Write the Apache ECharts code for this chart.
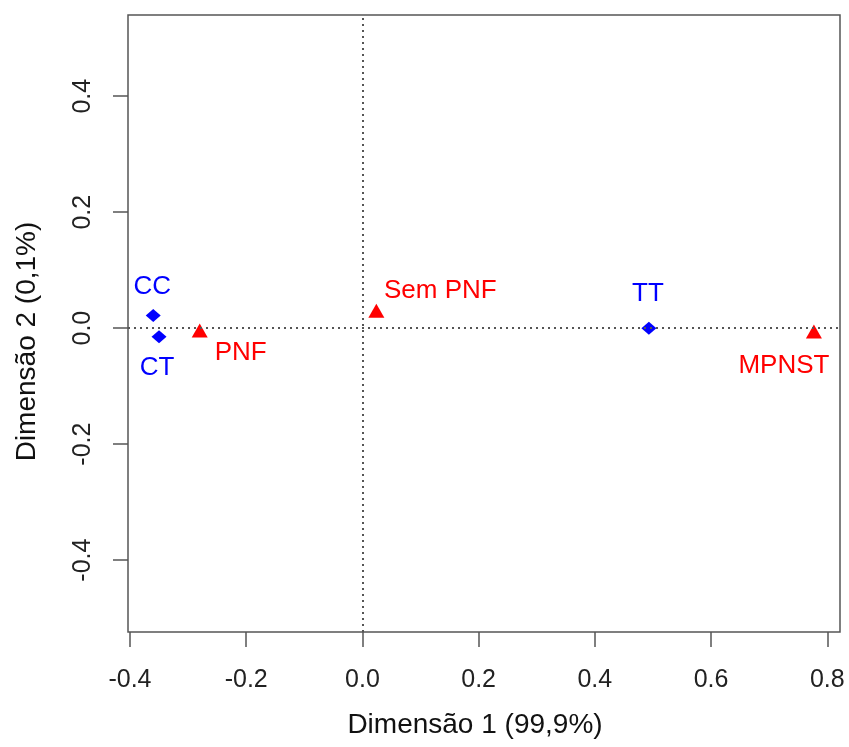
<!DOCTYPE html>
<html>
<head>
<meta charset="utf-8">
<script src="https://cdn.jsdelivr.net/npm/echarts@6/dist/echarts.min.js"></script>
<style>
  html, body { margin: 0; padding: 0; background: #fff; }
  #chart { width: 849px; height: 747px; }
</style>
</head>
<body>
<div id="chart"></div>
<script>
// linhas (azul) e colunas (vermelho) da análise de correspondência
const rowNames = ['CC', 'CT', 'TT'];
const rowX = [-0.360, -0.350, 0.493];
const rowY = [0.022, -0.015, 0.000];

const colNames = ['PNF', 'Sem PNF', 'MPNST'];
const colX = [-0.280, 0.024, 0.777];
const colY = [-0.004, 0.030, -0.006];

const xTicks = [-0.4, -0.2, 0.0, 0.2, 0.4, 0.6, 0.8];
const yTicks = [-0.4, -0.2, 0.0, 0.2, 0.4];

// posicao dos rotulos (deslocamento a partir do ponto)
const labelOffset = {
  'CC': [-1, -29],
  'CT': [-2, 31],
  'TT': [-1, -34],
  'PNF': [41, 22],
  'Sem PNF': [64, -20],
  'MPNST': [-30, 34]
};

const font = 'Liberation Sans, Arial, sans-serif';

function points(names, xs, ys) {
  return names.map((n, i) => ({
    name: n,
    value: [xs[i], ys[i]],
    label: { offset: labelOffset[n] }
  }));
}

const chart = echarts.init(document.getElementById('chart'));

const tickStyle = { color: '#555', width: 1.5 };

chart.setOption({
  animation: false,
  grid: {
    left: 128, top: 15, right: 9, bottom: 115,
    show: true,
    borderColor: '#555',
    borderWidth: 1.5
  },
  xAxis: {
    type: 'value',
    min: -0.4034,
    max: 0.8219,
    name: 'Dimensão 1 (99,9%)',
    nameLocation: 'middle',
    nameGap: 79,
    nameTextStyle: { color: '#111', fontSize: 28, fontFamily: font, padding: [0, 18, 0, 0] },
    axisLine: { show: false, onZero: false },
    splitLine: { show: false },
    axisTick: { show: true, length: 15, customValues: xTicks, lineStyle: tickStyle },
    axisLabel: {
      customValues: xTicks,
      formatter: v => v.toFixed(1),
      color: '#222',
      fontSize: 25,
      fontFamily: font,
      margin: 36
    }
  },
  yAxis: {
    type: 'value',
    min: -0.524,
    max: 0.540,
    name: 'Dimensão 2 (0,1%)',
    nameLocation: 'middle',
    nameGap: 87,
    nameTextStyle: { color: '#111', fontSize: 28, fontFamily: font, padding: [0, 36, 0, 0] },
    axisLine: { show: false, onZero: false },
    splitLine: { show: false },
    axisTick: { show: true, length: 15, customValues: yTicks, lineStyle: tickStyle },
    axisLabel: {
      customValues: yTicks,
      formatter: v => v.toFixed(1),
      rotate: 90,
      color: '#222',
      fontSize: 25,
      fontFamily: font,
      margin: 32
    }
  },
  series: [
    {
      type: 'scatter',
      name: 'linhas',
      symbol: 'diamond',
      symbolSize: [15, 13],
      itemStyle: { color: '#0000ff', opacity: 1 },
      data: points(rowNames, rowX, rowY),
      label: {
        show: true,
        position: 'inside',
        formatter: p => p.name,
        color: '#0000ff',
        fontSize: 26,
        fontFamily: font
      },
      markLine: {
        silent: true,
        symbol: 'none',
        label: { show: false },
        lineStyle: { color: '#555', type: [2, 4], width: 2, opacity: 1 },
        data: [{ xAxis: 0 }, { yAxis: 0 }]
      },
      z: 3
    },
    {
      type: 'scatter',
      name: 'colunas',
      symbol: 'triangle',
      symbolSize: [16, 14],
      itemStyle: { color: '#ff0000', opacity: 1 },
      data: points(colNames, colX, colY),
      label: {
        show: true,
        position: 'inside',
        formatter: p => p.name,
        color: '#ff0000',
        fontSize: 26,
        fontFamily: font
      },
      z: 3
    }
  ]
});
</script>
</body>
</html>
